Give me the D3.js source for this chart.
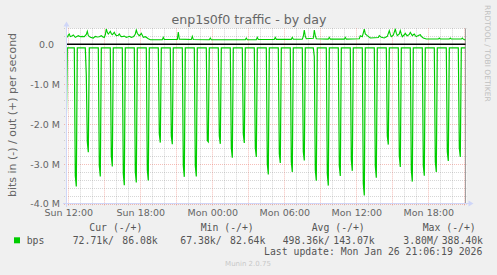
<!DOCTYPE html>
<html><head><meta charset="utf-8">
<script src="https://cdn.jsdelivr.net/npm/d3@7"></script>
<style>html,body{margin:0;padding:0;background:#f0f0f0;overflow:hidden}svg{display:block}</style>
</head><body><svg id="c" width="497" height="275"></svg>
<script>
// ---------- data ----------
const title = "enp1s0f0 traffic - by day";
const yLabel = "bits in (-) / out (+) per second";
const xTickMinutes = [0, 360, 720, 1080, 1440, 1800];           // minutes since Sun 12:00
const xTickLabels = ["Sun 12:00","Sun 18:00","Mon 00:00","Mon 06:00","Mon 12:00","Mon 18:00"];
const yTickValues = [0, -1e6, -2e6, -3e6, -4e6];
const yTickLabels = ["0.0","-1.0 M","-2.0 M","-3.0 M","-4.0 M"];

// inbound (drawn negative), kbit/s; spikes every hour
const inSpikeMin = [40,100,160,220,280,340,400,460,520,580,640,700,760,820,880,940,1000,1060,1120,1180,1240,1300,1360,1420,1480,1540,1600,1660,1720,1780,1840,1900,1960];
const inPre  = [90,780,90,90,90,90,90,90,90,90,90,90,90,90,90,90,90,90,90,90,310,90,90,90,90,90,90,90,90,90,90,90,90];
const inD1   = [3300,2450,3050,2800,3250,3200,3150,2250,2300,3050,3050,2420,2300,2600,2250,2600,3000,2750,2950,2700,3150,3250,3050,2900,3500,3050,2300,2800,3150,3050,2950,2700,2600];
const inD2   = [3570,2710,3320,3070,3540,3470,3420,2470,2510,3330,3320,2450,2500,2850,2480,2830,3270,2980,3210,2920,3430,3550,3310,3180,3800,3350,2520,3080,3450,3300,3210,2930,2830];
const inBaseline = 90;
const inStart = [[-10, 2000], [-5, 90]];
const inEnd = [[1985, 90]];

// outbound, kbit/s: [minute, value]
const outSeries = [[-5,175],[0,230],[5,259],[10,192],[15,200],[25,234],[35,175],[45,205],[50,217],[60,192],[70,200],[80,192],[90,250],[95,326],[100,220],[110,175],[125,158],[135,200],[145,185],[155,192],[165,217],[175,180],[180,175],[185,240],[190,388],[195,300],[200,259],[205,290],[210,326],[215,270],[220,242],[225,270],[230,301],[235,250],[240,217],[250,230],[255,259],[260,220],[265,192],[275,200],[280,209],[290,175],[300,190],[305,200],[315,175],[325,190],[330,217],[335,260],[340,359],[345,280],[350,240],[355,217],[360,240],[365,276],[370,230],[375,175],[385,192],[395,160],[400,141],[410,116],
[470,116],[475,175],[480,120],[545,120],[550,310],[555,130],[615,120],[620,200],[625,120],[705,116],[710,158],[715,116],[885,116],[890,158],[895,116],[940,116],[945,175],[950,120],[1030,125],[1035,175],[1040,125],[1115,125],[1120,175],[1125,128],[1170,130],[1175,200],[1180,359],[1185,200],[1190,140],[1225,150],[1230,359],[1235,220],[1240,140],[1300,130],[1305,175],[1310,130],[1380,130],[1385,175],[1390,130],[1455,140],[1460,217],[1470,190],[1480,384],[1485,260],[1495,217],[1510,158],[1550,170],[1555,217],[1565,175],[1580,160],[1595,200],[1605,343],[1610,250],[1615,192],[1625,230],[1635,384],[1640,280],[1645,217],[1655,260],[1660,343],[1665,260],[1670,192],[1680,240],[1685,276],[1690,240],[1695,217],[1705,250],[1710,301],[1715,260],[1720,217],[1725,240],[1730,259],[1735,220],[1740,192],[1750,220],[1760,242],[1765,200],[1775,158],[1790,133],[1850,133],[1855,158],[1860,133],[1905,133],[1910,158],[1915,133],[1965,133],[1970,158],[1975,130],[1985,110]];

const legendHeaders = ["Cur (-/+)","Min (-/+)","Avg (-/+)","Max (-/+)"];
const legendIn  = ["72.71k/","67.38k/","498.36k/","3.80M/"];
const legendOut = ["86.08k","82.64k","143.07k","388.40k"];
const seriesName = "bps";
const lastUpdate = "Last update: Mon Jan 26 21:06:19 2026";
const watermark = "Munin 2.0.75";
const sideText = "RRDTOOL / TOBI OETIKER";

// ---------- drawing ----------
const base = new Date(2026, 0, 25, 12, 0).getTime();
const T = m => new Date(base + m * 60000);
const L = 66.5, R = 466.5, TOP = 28.4, BOT = 203.5;
const x = d3.scaleTime().domain([T(-9), T(1991)]).range([L, R]);
const y = d3.scaleLinear().domain([-4e6, 0.4e6]).range([BOT, TOP]);

const svg = d3.select("#c");
svg.append("rect").attr("width", 497).attr("height", 275).attr("fill", "#f0f0f0");
svg.append("rect").attr("x", L).attr("y", TOP).attr("width", R - L).attr("height", BOT - TOP).attr("fill", "#ffffff");

const FONT = "DejaVu Sans, sans-serif";
const MONO = "DejaVu Sans Mono, monospace";
const MINOR = "rgba(128,128,128,0.32)";
const MAJOR = "rgba(233,100,85,0.42)";

// grid: horizontal
const hMinor = d3.range(-40, 5, 2).map(v => v * 1e5).filter(v => v % 1e6 !== 0);
const hMajor = [-4e6, -3e6, -2e6, -1e6];
const g = svg.append("g");
g.selectAll(".hmin").data(hMinor).join("line")
  .attr("x1", L - 2.5).attr("x2", R).attr("y1", d => Math.round(y(d)) + 0.5).attr("y2", d => Math.round(y(d)) + 0.5)
  .attr("stroke", MINOR).attr("stroke-dasharray", "1,1");
g.selectAll(".hmaj").data(hMajor).join("line")
  .attr("x1", L - 2.5).attr("x2", R).attr("y1", d => Math.round(y(d)) + 0.5).attr("y2", d => Math.round(y(d)) + 0.5)
  .attr("stroke", MAJOR).attr("stroke-dasharray", "1,1");
// grid: vertical
const vHours = d3.range(0, 34);
g.selectAll(".vmin").data(vHours.filter(h => h % 3 !== 0)).join("line")
  .attr("x1", h => Math.round(x(T(h * 60))) + 0.5).attr("x2", h => Math.round(x(T(h * 60))) + 0.5)
  .attr("y1", TOP).attr("y2", BOT + 2.5).attr("stroke", MINOR).attr("stroke-dasharray", "1,1");
g.selectAll(".vmaj").data(vHours.filter(h => h % 3 === 0)).join("line")
  .attr("x1", h => Math.round(x(T(h * 60))) + 0.5).attr("x2", h => Math.round(x(T(h * 60))) + 0.5)
  .attr("y1", TOP).attr("y2", BOT + 2.5).attr("stroke", MAJOR).attr("stroke-dasharray", "1,1");

// right marker line
svg.append("line").attr("x1", 465.5).attr("x2", 465.5).attr("y1", TOP).attr("y2", BOT).attr("stroke", "#a0a0a0");

// clip
svg.append("clipPath").attr("id", "clip").append("rect").attr("x", L).attr("y", TOP).attr("width", R - L - 0.5).attr("height", BOT - TOP);

// series
const inPts = [...inStart];
inSpikeMin.forEach((t, i) => {
  inPts.push([t - 15, inBaseline], [t - 10, inPre[i]], [t - 5, inD1[i]], [t, inD2[i]], [t + 5, inBaseline]);
});
inPts.push(...inEnd);
const line = d3.line().x(d => x(T(d[0]))).y(d => y(d[1]));
const plot = svg.append("g").attr("clip-path", "url(#clip)");
plot.append("path").datum(inPts.map(d => [d[0], -d[1] * 1000]))
  .attr("d", line).attr("fill", "none").attr("stroke", "#00cc00").attr("stroke-width", 1.2);
plot.append("path").datum(outSeries.map(d => [d[0], d[1] * 1000]))
  .attr("d", line).attr("fill", "none").attr("stroke", "#00cc00").attr("stroke-width", 1.1);

// zero line
svg.append("line").attr("x1", L).attr("x2", 465.5).attr("y1", y(0)).attr("y2", y(0)).attr("stroke", "#000").attr("stroke-width", 1.4);

// axes lines with arrows
const AX = "#CFD6F8";
svg.append("line").attr("x1", 63).attr("x2", 469).attr("y1", BOT).attr("y2", BOT).attr("stroke", AX);
svg.append("path").attr("d", "M468.5,200.5 L473.5,203.5 L468.5,206.5 Z").attr("fill", AX);
svg.append("line").attr("x1", L).attr("x2", L).attr("y1", BOT + 3.5).attr("y2", 25).attr("stroke", AX);
svg.append("path").attr("d", "M63.5,26.5 L66.5,21.5 L69.5,26.5 Z").attr("fill", AX);

// axis labels via d3 axes
const xAxis = d3.axisBottom(x).tickValues(xTickMinutes.map(T))
  .tickFormat((d, i) => xTickLabels[i]).tickSize(0).tickPadding(0);
const xa = svg.append("g").attr("transform", `translate(0,${BOT})`).call(xAxis);
xa.select(".domain").remove();
xa.selectAll("text").attr("y", 12.7).attr("dy", 0).attr("fill", "#666").attr("font-family", FONT).attr("font-size", 9.5);

const yAxis = d3.axisLeft(y).tickValues(yTickValues)
  .tickFormat((d, i) => yTickLabels[i]).tickSize(0).tickPadding(0);
const ya = svg.append("g").attr("transform", `translate(60,0)`).call(yAxis);
ya.select(".domain").remove();
ya.selectAll("text").attr("x", d => d === 0 ? -6 : 0).attr("dy", "0.35em").attr("fill", "#666").attr("font-family", FONT).attr("font-size", 9.5);

// title
svg.append("text").attr("x", 249).attr("y", 23.5).attr("text-anchor", "middle")
  .attr("font-family", FONT).attr("font-size", 12.6).attr("fill", "#666").text(title);
// y label
svg.append("text").attr("transform", "translate(15.6,115) rotate(-90)").attr("text-anchor", "middle")
  .attr("font-family", FONT).attr("font-size", 11).attr("fill", "#666").text(yLabel);
// side text
svg.append("text").attr("transform", "translate(485.4,5) rotate(90)").attr("text-anchor", "start")
  .attr("font-family", FONT).attr("font-size", 7.5).attr("fill", "#c0c0c0").text(sideText);

// legend
const headerX = [89.3, 200.7, 311.7, 422.7];
const inX = [72.7, 180.3, 282.7, 403.3];
const outX = [122.3, 230, 333.3, 441.7];
const lg = svg.append("g").attr("font-family", MONO).attr("font-size", 9.8).attr("fill", "#555");
lg.selectAll(".h").data(legendHeaders).join("text").attr("x", (d, i) => headerX[i]).attr("y", 230.8).text(d => d);
svg.append("rect").attr("x", 14).attr("y", 237.3).attr("width", 6).attr("height", 6).attr("fill", "#00cc00");
lg.append("text").attr("x", 26.7).attr("y", 243.5).text(seriesName);
lg.selectAll(".i").data(legendIn).join("text").attr("x", (d, i) => inX[i]).attr("y", 243.5).text(d => d);
lg.selectAll(".o").data(legendOut).join("text").attr("x", (d, i) => outX[i]).attr("y", 243.5).text(d => d);
lg.append("text").attr("x", 482.3).attr("y", 255.2).attr("text-anchor", "end").text(lastUpdate);
svg.append("text").attr("x", 248).attr("y", 265.8).attr("text-anchor", "middle")
  .attr("font-family", FONT).attr("font-size", 7).attr("fill", "#c8c8c8").text(watermark);
</script></body></html>
